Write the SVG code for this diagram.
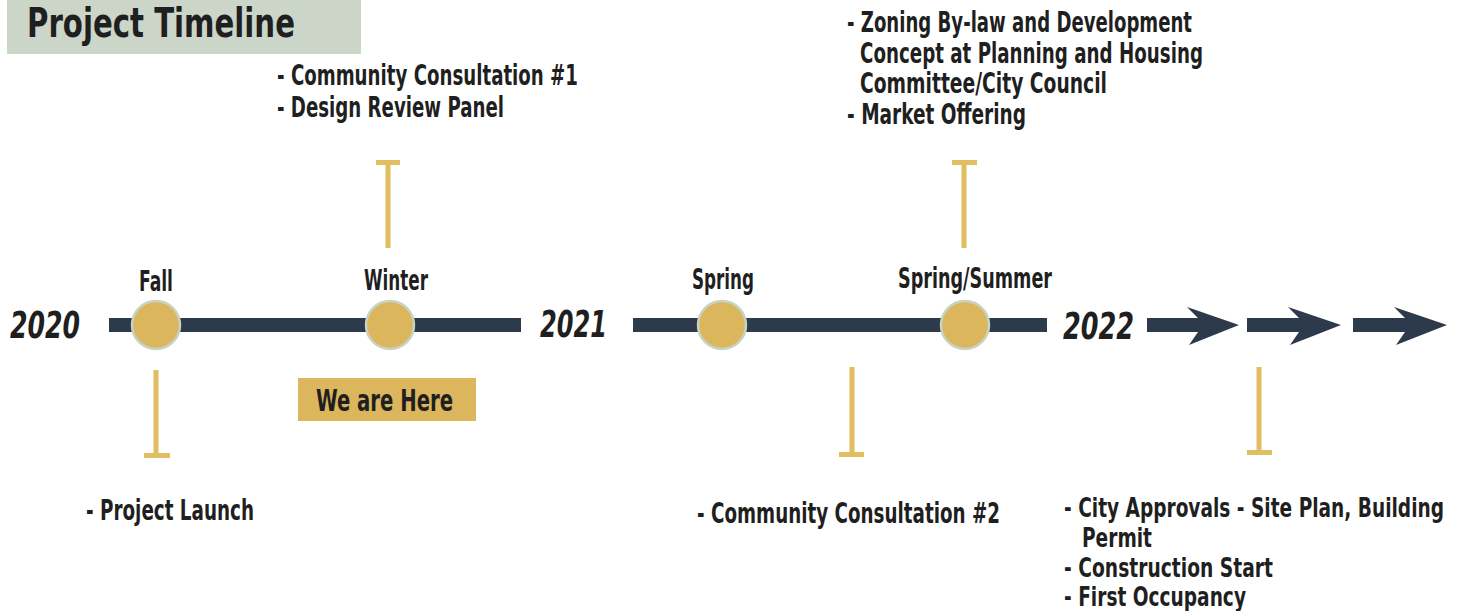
<svg xmlns="http://www.w3.org/2000/svg" width="1460" height="611" viewBox="0 0 1460 611">
<style>
  .t { font-family: "DejaVu Sans Condensed", "DejaVu Sans", "Liberation Sans Narrow", sans-serif; font-weight: bold; fill: #1f1f1f; }
  .lbl { font-size: 28px; }
  .sm { font-size: 26px; }
  .yr { font-size: 37px; font-style: italic; }
  .bar { fill: #2c3a4b; }
  .dot { fill: #dcb65c; stroke: #c8d3c3; stroke-width: 2.5; }
  .conn { stroke: #e2be62; stroke-width: 5; fill: none; }
</style>
<rect width="1460" height="611" fill="#ffffff"/>

<g id="title">
  <rect x="7" y="0" width="354" height="54" fill="#cbd5c8"/>
  <text class="t" x="27" y="37" font-size="40" textLength="268" lengthAdjust="spacingAndGlyphs">Project Timeline</text>
</g>

<g id="years">
  <text class="t yr" x="10" y="338" textLength="70" lengthAdjust="spacingAndGlyphs">2020</text>
  <text class="t yr" x="540" y="337" textLength="67" lengthAdjust="spacingAndGlyphs">2021</text>
  <text class="t yr" x="1063" y="339" textLength="71" lengthAdjust="spacingAndGlyphs">2022</text>
</g>

<g id="timeline">
  <rect class="bar" x="109" y="318" width="412" height="14"/>
  <rect class="bar" x="633" y="318" width="414" height="14"/>
  <path class="bar" d="M1147,318 L1198,318 L1187,307 L1239,325 L1189,345 L1198,332 L1147,332 Z"/>
  <path class="bar" d="M1247,318 L1299,318 L1288,307 L1341,325 L1290,345 L1299,332 L1247,332 Z"/>
  <path class="bar" d="M1353,318 L1405,318 L1394,307 L1447,325 L1396,345 L1405,332 L1353,332 Z"/>
</g>

<g id="node-fall">
  <circle class="dot" cx="156" cy="325" r="24"/>
  <text class="t lbl" x="156" y="291" text-anchor="middle" textLength="34" lengthAdjust="spacingAndGlyphs">Fall</text>
</g>
<g id="node-winter">
  <circle class="dot" cx="390" cy="325" r="24"/>
  <text class="t lbl" x="396" y="290" text-anchor="middle" textLength="64" lengthAdjust="spacingAndGlyphs">Winter</text>
</g>
<g id="node-spring">
  <circle class="dot" cx="722" cy="325" r="24"/>
  <text class="t lbl" x="723" y="289" text-anchor="middle" textLength="62" lengthAdjust="spacingAndGlyphs">Spring</text>
</g>
<g id="node-springsummer">
  <circle class="dot" cx="965" cy="325" r="24"/>
  <text class="t lbl" x="975" y="288" text-anchor="middle" textLength="154" lengthAdjust="spacingAndGlyphs">Spring/Summer</text>
</g>

<g id="we-are-here">
  <rect x="298" y="378" width="178" height="43" fill="#dcb65c"/>
  <text class="t" x="316" y="411" font-size="30" textLength="137" lengthAdjust="spacingAndGlyphs">We are Here</text>
</g>

<g id="connectors">
  <path class="conn" d="M156,370 V455 M144,455.5 H170"/>
  <path class="conn" d="M388,248 V163 M376,162.5 H400"/>
  <path class="conn" d="M852,367 V454 M839,454.5 H864"/>
  <path class="conn" d="M964,248 V163 M952,162.5 H977"/>
  <path class="conn" d="M1259,367 V452 M1247,452.5 H1272"/>
</g>

<g id="event-launch">
  <text class="t lbl" x="86" y="520" textLength="168" lengthAdjust="spacingAndGlyphs">- Project Launch</text>
</g>
<g id="event-consult1">
  <text class="t lbl" x="277" y="85" textLength="301" lengthAdjust="spacingAndGlyphs">- Community Consultation #1</text>
  <text class="t lbl" x="277" y="117" textLength="227" lengthAdjust="spacingAndGlyphs">- Design Review Panel</text>
</g>
<g id="event-consult2">
  <text class="t lbl" x="697" y="523" textLength="303" lengthAdjust="spacingAndGlyphs">- Community Consultation #2</text>
</g>
<g id="event-zoning">
  <text class="t lbl" x="847" y="32" textLength="345" lengthAdjust="spacingAndGlyphs">- Zoning By-law and Development</text>
  <text class="t lbl" x="860" y="63" textLength="343" lengthAdjust="spacingAndGlyphs">Concept at Planning and Housing</text>
  <text class="t lbl" x="860" y="93" textLength="247" lengthAdjust="spacingAndGlyphs">Committee/City Council</text>
  <text class="t lbl" x="847" y="124" textLength="179" lengthAdjust="spacingAndGlyphs">- Market Offering</text>
</g>
<g id="event-approvals">
  <text class="t sm" transform="translate(1064,517) scale(0.5,1)" x="0" y="0" textLength="760" lengthAdjust="spacingAndGlyphs">- City Approvals - Site Plan, Building</text>
  <text class="t sm" x="1082" y="547" textLength="70" lengthAdjust="spacingAndGlyphs">Permit</text>
  <text class="t sm" x="1064" y="577" textLength="209" lengthAdjust="spacingAndGlyphs">- Construction Start</text>
  <text class="t sm" x="1064" y="606" textLength="182" lengthAdjust="spacingAndGlyphs">- First Occupancy</text>
</g>
</svg>
